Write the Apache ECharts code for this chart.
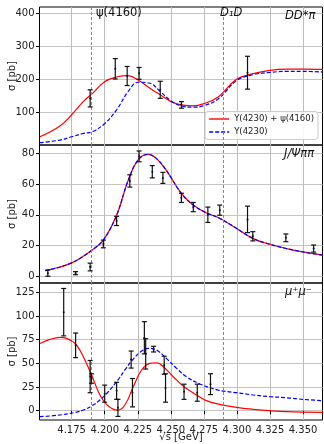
<!DOCTYPE html>
<html>
<head>
<meta charset="utf-8">
<script src="https://cdn.jsdelivr.net/npm/echarts@6/dist/echarts.min.js"></script>
<style>
  html, body { margin: 0; padding: 0; background: #fff; }
  #chart { width: 324px; height: 444px; }
</style>
</head>
<body>
<div id="chart"></div>
<script>
// x ticks and reference lines
const xTicks = [4.175, 4.2, 4.225, 4.25, 4.275, 4.3, 4.325, 4.35];
const refLines = [4.191, 4.286];

// DD*pi panel
const ddpiSum = [[4.151,25],[4.1662,58],[4.175,92],[4.1838,132],[4.191,158],[4.2002,193],[4.209,207],[4.2178,211],[4.2252,198],[4.2342,173],[4.2419,153],[4.2502,132],[4.258,122],[4.2669,119],[4.2745,125],[4.2858,146],[4.2997,200],[4.3123,217],[4.3249,227],[4.3375,231],[4.35,231],[4.365,230]];
const ddpiY = [[4.151,7],[4.1662,15],[4.175,25],[4.1838,35],[4.191,41],[4.2002,66],[4.209,107],[4.2178,163],[4.2252,191],[4.2342,188],[4.2419,163],[4.2502,134],[4.258,119],[4.2669,115],[4.2745,119],[4.2858,140],[4.2997,196],[4.3123,214],[4.3249,221],[4.3375,224],[4.35,224],[4.365,222]];
const ddpiPts = [[4.189,142,26],[4.208,232,31],[4.217,210,29],[4.226,218,18],[4.242,168,26],[4.258,122,10],[4.308,220,50]];

// J/psi pi pi panel
const jpsiCurve = [[4.155,3.6],[4.1662,6],[4.175,8.7],[4.1838,13],[4.191,17.4],[4.199,23.5],[4.209,39.7],[4.2178,62.5],[4.2252,75.6],[4.2328,79.3],[4.239,76.7],[4.2465,69],[4.258,53.9],[4.2669,46.3],[4.277,41.2],[4.2858,38.2],[4.297,32.6],[4.3123,24.5],[4.3249,20.8],[4.3375,18],[4.35,15.8],[4.365,13.7]];
const jpsiPts = [[4.157,2,2],[4.178,2,1],[4.189,6,2.5],[4.199,21,2.5],[4.209,36,3],[4.219,62,4],[4.226,78,3.5],[4.236,68,4],[4.244,64,3.6],[4.258,51,3],[4.267,45,3],[4.278,40,5],[4.287,43,3.3],[4.308,37,8.6],[4.312,26,3],[4.337,25,2.5],[4.358,18,2.3]];

// mu+ mu- panel
const mumuSum = [[4.151,71],[4.1586,75.3],[4.1662,77.4],[4.1712,76.4],[4.178,70.4],[4.1838,57],[4.1901,37.7],[4.1964,16.6],[4.2027,5],[4.21,0.7],[4.2153,6],[4.2216,25.3],[4.2279,43],[4.2342,50],[4.2392,50.6],[4.245,45.7],[4.2518,35.9],[4.26,25.3],[4.2695,16.6],[4.277,10.6],[4.2858,7],[4.2997,3.6],[4.3123,1.5],[4.3249,0],[4.3375,-1],[4.365,-1.7]];
const mumuY = [[4.151,-6.3],[4.1662,-4.5],[4.178,-1.7],[4.1838,0.7],[4.1901,5],[4.1964,11.3],[4.2027,20],[4.21,32.4],[4.2153,43],[4.2216,54.5],[4.2279,63],[4.233,65.8],[4.2392,64],[4.2466,55.3],[4.2544,44.7],[4.2619,35.9],[4.272,28.2],[4.2858,21.8],[4.2997,19],[4.3123,16.6],[4.3249,14.8],[4.3375,13.7],[4.35,12],[4.365,10.6]];
const mumuPts = [[4.169,104,25],[4.178,69,13],[4.189,36,17],[4.190,34,5],[4.200,18,9],[4.209,21,9],[4.210,3,9],[4.220,54,9],[4.221,19,15],[4.230,77,17],[4.231,60,16],[4.237,65,3],[4.245,48,9.5],[4.246,24,15],[4.260,20,8],[4.270,19,9],[4.280,28,11]];

const yTicks = [[100,200,300,400],[0,20,40,60,80],[0,25,50,75,100,125]];
const yRange = [[0,420],[-4.4,85.4],[-9.8,134.8]];

const SUM = 'Y(4230) + ψ(4160)';
const ONE = 'Y(4230)';
const font = 'DejaVu Sans';

const chart = echarts.init(document.getElementById('chart'));

const gridPos = [
  { top: 7, height: 138 },
  { top: 145, height: 138 },
  { top: 283, height: 137 }
];

function errRender(params, api) {
  const x = api.value(0), y = api.value(1), e = api.value(2);
  const hi = api.coord([x, y + e]);
  const lo = api.coord([x, y - e]);
  const mid = api.coord([x, y]);
  const st = { stroke: '#111', lineWidth: 1.2 };
  return {
    type: 'group',
    children: [
      { type: 'line', shape: { x1: hi[0], y1: hi[1], x2: lo[0], y2: lo[1] }, style: st },
      { type: 'line', shape: { x1: hi[0] - 2.5, y1: hi[1], x2: hi[0] + 2.5, y2: hi[1] }, style: st },
      { type: 'line', shape: { x1: lo[0] - 2.5, y1: lo[1], x2: lo[0] + 2.5, y2: lo[1] }, style: st },
      { type: 'circle', shape: { cx: mid[0], cy: mid[1], r: 1 }, style: { fill: '#111' } }
    ]
  };
}

const grids = gridPos.map(g => ({
  left: 39.5, right: 1.5, top: g.top, height: g.height,
  outerBoundsMode: 'none', containLabel: false,
  show: true, borderColor: '#000', borderWidth: 1, backgroundColor: 'transparent'
}));

const xAxes = [0, 1, 2].map(i => ({
  type: 'value', gridIndex: i, min: 4.1507, max: 4.3647,
  axisLine: { show: false },
  axisTick: { show: i === 2, length: 3.5, lineStyle: { color: '#000' }, customValues: xTicks },
  axisLabel: { show: i === 2, customValues: xTicks, formatter: v => v.toFixed(3),
    fontFamily: font, fontSize: 10, color: '#222', margin: 5 },
  splitLine: { show: true, lineStyle: { color: '#bcbcbc', width: 1 } },
  name: i === 2 ? '√s [GeV]' : '', nameLocation: 'middle', nameGap: 12, nameMoveOverlap: false,
  nameTextStyle: { fontFamily: font, fontSize: 10, color: '#222' }
}));

const yAxes = [0, 1, 2].map(i => ({
  type: 'value', gridIndex: i, min: yRange[i][0], max: yRange[i][1],
  axisLine: { show: false },
  axisTick: { show: true, length: 3.5, lineStyle: { color: '#000' }, customValues: yTicks[i] },
  axisLabel: { customValues: yTicks[i], fontFamily: font, fontSize: 10, color: '#222', margin: 5 },
  splitLine: { show: true, lineStyle: { color: '#c4c4c4', width: 1 } },
  name: 'σ [pb]', nameLocation: 'middle', nameGap: 22, nameMoveOverlap: false,
  nameTextStyle: { fontFamily: font, fontSize: 10, color: '#222' }
}));

function lineSeries(name, data, i, dashed, withMarks) {
  const s = {
    name, type: 'line', xAxisIndex: i, yAxisIndex: i, data,
    smooth: 0.4, symbol: 'none', z: dashed ? 4 : 3,
    lineStyle: { color: dashed ? '#0000ff' : '#ff0000', width: 1.2, type: dashed ? [4, 2] : 'solid' },
    itemStyle: { color: dashed ? '#0000ff' : '#ff0000' }
  };
  if (withMarks) {
    s.markLine = {
      silent: true, symbol: 'none', label: { show: false },
      lineStyle: { color: '#888', type: [3, 2], width: 1 },
      data: refLines.map(v => ({ xAxis: v }))
    };
  }
  return s;
}

function errSeries(data, i) {
  return { type: 'custom', xAxisIndex: i, yAxisIndex: i, data, z: 5,
    encode: { x: 0, y: 1 }, renderItem: errRender };
}

const series = [
  lineSeries(SUM, ddpiSum, 0, false, true),
  lineSeries(ONE, ddpiY, 0, true, false),
  errSeries(ddpiPts, 0),
  lineSeries(SUM, jpsiCurve, 1, false, true),
  lineSeries(ONE, jpsiCurve, 1, true, false),
  errSeries(jpsiPts, 1),
  lineSeries(SUM, mumuSum, 2, false, true),
  lineSeries(ONE, mumuY, 2, true, false),
  errSeries(mumuPts, 2)
];

const txt = (left, top, text, italic) => ({
  type: 'text', left, top, z: 10,
  style: { text, fontFamily: font, fontSize: 11.5, fill: '#111', fontStyle: italic ? 'italic' : 'normal' }
});

chart.setOption({
  animation: false,
  grid: grids,
  xAxis: xAxes,
  yAxis: yAxes,
  series,
  legend: {
    data: [
      { name: SUM, icon: 'path://M0,0H20V1.4H0Z' },
      { name: ONE, icon: 'path://M0,0H4V1.4H0Z M6,0H10V1.4H6Z M12,0H16V1.4H12Z M18,0H20V1.4H18Z' }
    ],
    orient: 'vertical', right: 6, top: 111.5,
    itemWidth: 20, itemHeight: 8, itemGap: 4,
    backgroundColor: 'rgba(255,255,255,0.85)', borderColor: '#ccc', borderWidth: 1, borderRadius: 3,
    padding: [3, 4],
    textStyle: { fontFamily: font, fontSize: 8.5, color: '#222' }
  },
  graphic: [
    txt(96, 7, 'ψ(4160)', false),
    txt(220, 7, 'D₁D', true),
    txt(285, 10, 'DD*π', true),
    txt(284, 148, 'J/Ψππ', true),
    txt(285, 286, 'μ⁺μ⁻', true)
  ]
});
</script>
</body>
</html>
